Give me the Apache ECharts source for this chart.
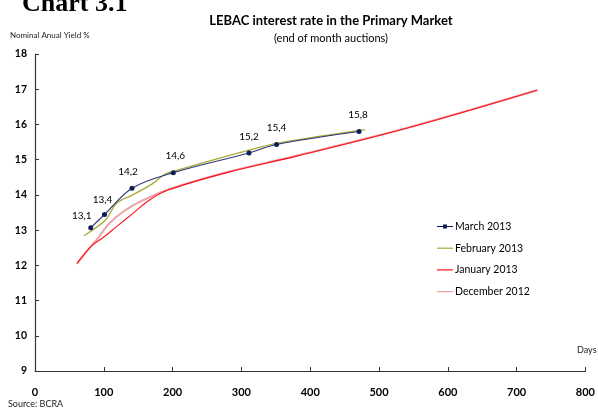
<!DOCTYPE html>
<html>
<head>
<meta charset="utf-8">
<script src="https://cdn.jsdelivr.net/npm/echarts@6/dist/echarts.min.js"></script>
<style>
  html, body { margin: 0; padding: 0; background: #fff; }
  #chart { width: 598px; height: 411px; }
</style>
</head>
<body>
<div id="chart"></div>
<script>
// days to maturity / nominal yield
var marchDays = [81, 101, 141, 201, 311, 351, 471]
var marchYield = [13.07, 13.44, 14.19, 14.63, 15.19, 15.43, 15.80]
var marchLabels = ['13,1', '13,4', '14,2', '14,6', '15,2', '15,4', '15,8']

var febDays = [71, 102, 119, 142, 171, 188, 201, 311, 351, 480]
var febYield = [12.84, 13.28, 13.77, 14.0, 14.32, 14.58, 14.67, 15.27, 15.46, 15.85]

var janDays = [61, 82, 99, 118, 142, 166, 195, 280, 380, 540, 730]
var janYield = [12.05, 12.55, 12.79, 13.09, 13.47, 13.85, 14.15, 14.64, 15.1, 15.89, 16.97]

var decDays = [61, 82, 89, 108, 128, 152, 195, 280, 380, 540, 730]
var decYield = [12.05, 12.55, 12.71, 13.19, 13.52, 13.8, 14.16, 14.65, 15.11, 15.9, 16.98]

var xTicks = [0, 100, 200, 300, 400, 500, 600, 700, 800]
var yTicks = [9, 10, 11, 12, 13, 14, 15, 16, 17, 18]

// label nudges for the March points (the first ones sit up-left)
var labelOffsets = [[-9, 5], [-2, 2], [-4, 0], [2, 0], [0, 0], [0, 0], [-1, 0]]

function pairs(xs, ys) {
  return xs.map(function (x, i) { return [x, ys[i]] })
}

var font = 'Lato, "Open Sans", sans-serif'
var chart = echarts.init(document.getElementById('chart'))

chart.setOption({
  animation: false,
  textStyle: { fontFamily: font },
  graphic: [
    { type: 'text', left: 22, top: -9, style: { text: 'Chart 3.1', font: 'bold 26px "Liberation Serif", serif', fill: '#000' } },
    { type: 'text', left: 10, top: 31, style: { text: 'Nominal Anual Yield %', font: '8px ' + font, fill: '#222' } },
    { type: 'text', left: 577, top: 346, style: { text: 'Days', font: '9px ' + font, fill: '#222' } },
    { type: 'text', left: 8, top: 400, style: { text: 'Source: BCRA', font: '9px ' + font, fill: '#222' } }
  ],
  title: {
    text: 'LEBAC interest rate in the Primary Market',
    subtext: '(end of month auctions)',
    left: 326,
    textAlign: 'center',
    top: 9,
    itemGap: 6,
    textStyle: { fontFamily: font, fontSize: 13, fontWeight: 'bold', color: '#000' },
    subtextStyle: { fontFamily: font, fontSize: 11, color: '#000' }
  },
  grid: { left: 35, right: 9, top: 54, bottom: 40, containLabel: false },
  legend: {
    orient: 'vertical',
    left: 432,
    top: 216,
    itemWidth: 16,
    itemHeight: 8,
    itemGap: 10.7,
    textStyle: { fontFamily: font, fontSize: 10.5, color: '#000', padding: [0, 0, 0, -3] },
    data: [
      { name: 'March 2013', icon: 'path://M0,4 L16,4 L16,5 L0,5 Z M6,2.5 L10,2.5 L10,6.5 L6,6.5 Z' },
      { name: 'February 2013', icon: 'path://M0,4 L16,4 L16,5.2 L0,5.2 Z' },
      { name: 'January 2013', icon: 'path://M0,4 L16,4 L16,5.2 L0,5.2 Z' },
      { name: 'December 2012', icon: 'path://M0,4 L16,4 L16,5.2 L0,5.2 Z' }
    ]
  },
  xAxis: {
    type: 'value',
    min: 0,
    max: 800,
    interval: 100,
    axisLine: { lineStyle: { color: '#333', width: 1.2 } },
    axisTick: { inside: true, length: 4, lineStyle: { color: '#333' } },
    axisLabel: { fontFamily: font, fontWeight: 'bold', fontSize: 11, color: '#000', margin: 16 },
    splitLine: { show: false }
  },
  yAxis: {
    type: 'value',
    min: 9,
    max: 18,
    interval: 1,
    axisLine: { show: true, lineStyle: { color: '#333', width: 1.2 } },
    axisTick: { show: true, inside: true, length: 4, lineStyle: { color: '#333' } },
    axisLabel: { fontFamily: font, fontWeight: 'bold', fontSize: 10.5, color: '#000', margin: 8 },
    splitLine: { show: false }
  },
  series: [
    {
      name: 'December 2012',
      type: 'line',
      smooth: 0.35,
      symbol: 'none',
      z: 1,
      lineStyle: { color: '#EBA3A3', width: 2 },
      itemStyle: { color: '#EBA3A3' },
      data: pairs(decDays, decYield)
    },
    {
      name: 'January 2013',
      type: 'line',
      smooth: 0.35,
      symbol: 'none',
      z: 2,
      lineStyle: { color: '#FF1020', width: 1.1 },
      itemStyle: { color: '#FF1020' },
      data: pairs(janDays, janYield)
    },
    {
      name: 'February 2013',
      type: 'line',
      smooth: 0.35,
      symbol: 'none',
      z: 3,
      lineStyle: { color: '#A9A935', width: 1.3 },
      itemStyle: { color: '#A9A935' },
      data: pairs(febDays, febYield)
    },
    {
      name: 'March 2013',
      type: 'line',
      smooth: 0.35,
      symbol: 'circle',
      symbolSize: 5,
      z: 4,
      lineStyle: { color: '#2A3A7A', width: 1.2 },
      itemStyle: { color: '#0E1D55' },
      label: {
        show: true,
        position: 'top',
        distance: 9,
        fontFamily: font,
        fontSize: 10,
        color: '#000'
      },
      data: marchDays.map(function (d, i) {
        return {
          value: [d, marchYield[i]],
          label: { formatter: marchLabels[i], offset: labelOffsets[i] }
        }
      })
    }
  ]
})
</script>
</body>
</html>
